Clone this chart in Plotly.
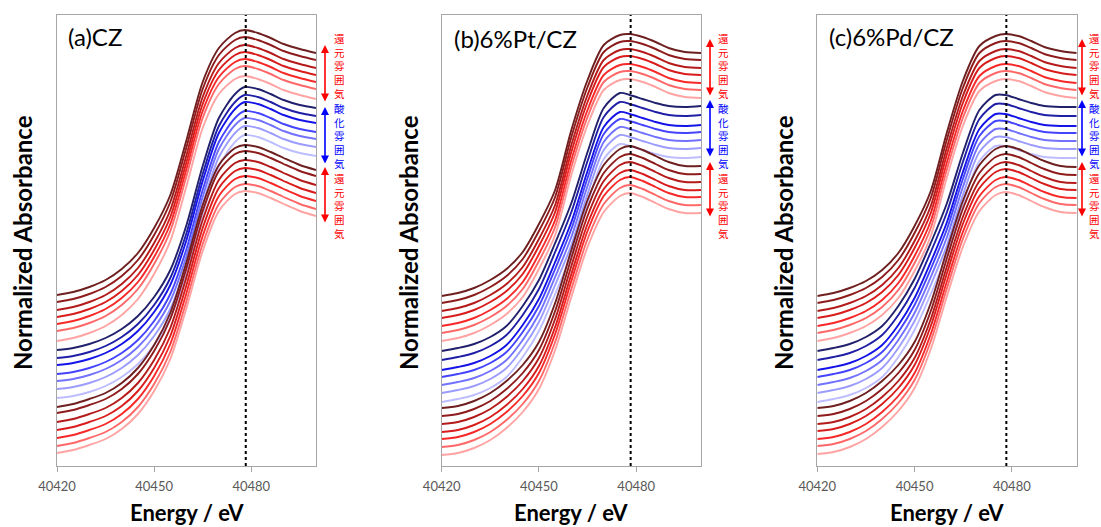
import plotly.graph_objects as go

# Photon energy grid (eV) shared by all spectra
energy = [40420, 40425, 40430, 40435, 40440, 40445, 40450, 40455, 40460, 40465,
          40470, 40475, 40478, 40482, 40486, 40490, 40495, 40500]

# (a) CZ : leading (darkest) spectrum of each series, stacked absorbance
cz_red_top = [0.684, 0.696, 0.716, 0.744, 0.788, 0.852, 0.952, 1.084, 1.304, 1.536,
              1.672, 1.732, 1.744, 1.732, 1.712, 1.688, 1.668, 1.652]
cz_blue = [0.464, 0.472, 0.488, 0.512, 0.548, 0.600, 0.676, 0.784, 0.964, 1.200,
           1.392, 1.488, 1.516, 1.508, 1.488, 1.464, 1.444, 1.432]
cz_red_bottom = [0.236, 0.248, 0.268, 0.292, 0.332, 0.392, 0.484, 0.612, 0.816, 1.044,
                 1.204, 1.272, 1.284, 1.276, 1.256, 1.232, 1.204, 1.184]
cz_red_top_offsets = [0, 0.028, 0.060, 0.088, 0.116, 0.144, 0.184]
cz_blue_offsets = [0, 0.032, 0.060, 0.096, 0.124, 0.156, 0.192]
cz_red_bottom_offsets = [0, 0.024, 0.060, 0.092, 0.124, 0.156, 0.184]

# (b) 6%Pt/CZ
pt_red_top = [0.680, 0.692, 0.712, 0.744, 0.788, 0.856, 0.968, 1.104, 1.344, 1.544,
              1.684, 1.724, 1.728, 1.716, 1.696, 1.672, 1.656, 1.652]
pt_blue = [0.460, 0.472, 0.488, 0.516, 0.560, 0.640, 0.744, 0.892, 1.052, 1.256,
           1.432, 1.492, 1.484, 1.468, 1.452, 1.440, 1.436, 1.440]
pt_red_bottom = [0.232, 0.240, 0.260, 0.292, 0.340, 0.404, 0.496, 0.652, 0.864, 1.064,
                 1.204, 1.268, 1.280, 1.264, 1.240, 1.216, 1.200, 1.200]
pt_red_top_offsets = [0, 0.028, 0.060, 0.088, 0.120, 0.148, 0.180]
pt_blue_offsets = [0, 0.036, 0.076, 0.104, 0.136, 0.168, 0.204]
pt_red_bottom_offsets = [0, 0.032, 0.064, 0.096, 0.124, 0.156, 0.188]

# (c) 6%Pd/CZ
pd_red_top = [0.680, 0.692, 0.712, 0.740, 0.784, 0.852, 0.960, 1.100, 1.336, 1.544,
              1.680, 1.720, 1.728, 1.720, 1.700, 1.676, 1.660, 1.652]
pd_blue = [0.460, 0.472, 0.488, 0.516, 0.560, 0.640, 0.748, 0.892, 1.052, 1.256,
           1.424, 1.484, 1.484, 1.468, 1.452, 1.440, 1.436, 1.436]
pd_red_bottom = [0.232, 0.240, 0.260, 0.292, 0.340, 0.404, 0.496, 0.652, 0.864, 1.064,
                 1.204, 1.268, 1.280, 1.268, 1.244, 1.220, 1.200, 1.196]
pd_red_top_offsets = [0, 0.028, 0.060, 0.088, 0.120, 0.148, 0.180]
pd_blue_offsets = [0, 0.036, 0.076, 0.104, 0.136, 0.168, 0.204]
pd_red_bottom_offsets = [0, 0.032, 0.064, 0.092, 0.124, 0.152, 0.184]

panel_titles = ["(a)CZ", "(b)6%Pt/CZ", "(c)6%Pd/CZ"]
x_ticks = [40420, 40450, 40480]
white_line_energy = 40478.3
y_max = 1.804

reduce_label = "還元雰囲気"
oxidize_label = "酸化雰囲気"

reds = ["#6e1f1f", "#8e1b1b", "#b41a1a", "#d81c1c", "#f72828", "#ff6868", "#ffa3a3"]
blues = ["#20206c", "#1f1fa6", "#1414e8", "#4444ff", "#7272ff", "#9c9cff", "#bdbdff"]

W, H = 1101, 527


def fx(px):
    return px / W


def fy(py):
    return 1 - py / H


panels = [
    dict(series=[(cz_red_top, cz_red_top_offsets, reds),
                 (cz_blue, cz_blue_offsets, blues),
                 (cz_red_bottom, cz_red_bottom_offsets, reds)],
         dom=(57, 316), ytitle_x=22, title_x=66, title_y=36,
         arrow_x=325, text_x=339,
         arrows=[(45, 103, "#ff0000", 66), (107, 165, "#0000ff", 136),
                 (167, 224, "#ff0000", 206)]),
    dict(series=[(pt_red_top, pt_red_top_offsets, reds),
                 (pt_blue, pt_blue_offsets, blues),
                 (pt_red_bottom, pt_red_bottom_offsets, reds)],
         dom=(441.7, 701), ytitle_x=408, title_x=452, title_y=38,
         arrow_x=710, text_x=723,
         arrows=[(39, 97, "#ff0000", 66), (100, 158, "#0000ff", 136),
                 (162, 218, "#ff0000", 206)]),
    dict(series=[(pd_red_top, pd_red_top_offsets, reds),
                 (pd_blue, pd_blue_offsets, blues),
                 (pd_red_bottom, pd_red_bottom_offsets, reds)],
         dom=(817.3, 1076.7), ytitle_x=783, title_x=827, title_y=37,
         arrow_x=1082, text_x=1094,
         arrows=[(39, 97, "#ff0000", 66), (100, 158, "#0000ff", 136),
                 (162, 218, "#ff0000", 206)]),
]

fig = go.Figure()
annotations = []
shapes = []
frame = "#a6a6a6"
plot_top, plot_bottom = 15, 466

for i, p in enumerate(panels):
    n = "" if i == 0 else str(i + 1)
    xa, ya = "x" + n, "y" + n
    for lead, offsets, cols in p["series"]:
        for off, col in zip(offsets, cols):
            fig.add_trace(go.Scatter(
                x=energy, y=[v - off for v in lead], mode="lines",
                line=dict(color=col, width=1.9, shape="spline", smoothing=0.8),
                xaxis=xa, yaxis=ya, showlegend=False, hoverinfo="skip"))

    fig.layout["xaxis" + n] = dict(
        domain=[fx(p["dom"][0]), fx(p["dom"][1])], anchor=ya,
        range=[40420, 40500], tickvals=x_ticks, tickformat="d",
        ticks="outside", ticklen=5, ticklabelstandoff=3,
        tickcolor=frame, showline=True, linecolor=frame, linewidth=1, mirror=True,
        showgrid=False, zeroline=False,
        tickfont=dict(family="Lato", size=13, color="#595959"))
    fig.layout["yaxis" + n] = dict(
        domain=[fy(plot_bottom), fy(plot_top)], anchor=xa, range=[0, y_max],
        showticklabels=False, ticks="", showline=True, linecolor=frame,
        linewidth=1, mirror=True, showgrid=False, zeroline=False)

    shapes.append(dict(type="line", xref=xa, yref=ya + " domain",
                       x0=white_line_energy, x1=white_line_energy, y0=0, y1=1,
                       line=dict(color="black", width=2, dash="dot")))

    cx = (p["dom"][0] + p["dom"][1]) / 2
    annotations.append(dict(text="<b>Energy / eV</b>", x=fx(cx), y=fy(512),
                            xref="paper", yref="paper", showarrow=False,
                            xanchor="center", yanchor="middle",
                            font=dict(family="Lato", size=22, color="black")))
    annotations.append(dict(text="<b>Normalized Absorbance</b>", x=fx(p["ytitle_x"]),
                            y=fy(243), xref="paper", yref="paper", showarrow=False,
                            textangle=-90, xanchor="center", yanchor="middle",
                            font=dict(family="Lato", size=24, color="black")))
    annotations.append(dict(text=panel_titles[i], x=fx(p["title_x"]), y=fy(p["title_y"]),
                            xref="paper", yref="paper", showarrow=False,
                            xanchor="left", yanchor="middle",
                            font=dict(family="Lato", size=24, color="black")))

    for (y0, y1, col, ty), label in zip(p["arrows"], [reduce_label, oxidize_label, reduce_label]):
        annotations.append(dict(text="", x=fx(p["arrow_x"]), y=fy(y0),
                                xref="paper", yref="paper", showarrow=True,
                                ax=0, ay=y1 - y0, axref="pixel", ayref="pixel",
                                arrowside="end+start", arrowhead=2, startarrowhead=2,
                                arrowsize=1, startarrowsize=1, arrowwidth=1.6,
                                arrowcolor=col, standoff=0, startstandoff=0))
        annotations.append(dict(text="<br>".join(label), x=fx(p["text_x"]), y=fy(ty),
                                xref="paper", yref="paper", showarrow=False,
                                xanchor="center", yanchor="middle",
                                font=dict(family="Noto Sans CJK JP", size=10.5, color=col)))

fig.update_layout(
    width=W, height=H, margin=dict(l=0, r=0, t=0, b=0, autoexpand=False),
    paper_bgcolor="white", plot_bgcolor="white",
    annotations=annotations, shapes=shapes, showlegend=False)

fig.write_html("out.html")
